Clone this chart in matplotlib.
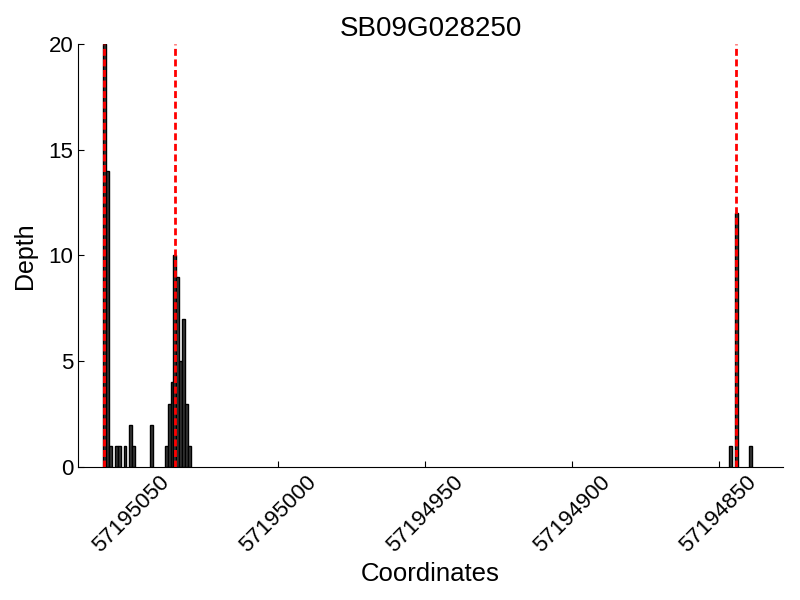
import matplotlib
matplotlib.use("Agg")
import matplotlib.pyplot as plt

plt.rcParams["font.family"] = ["Liberation Sans", "DejaVu Sans"]
plt.rcParams["lines.scale_dashes"] = False

gene = "SB09G028250"

# read coverage per coordinate
coords = [57195059, 57195058, 57195057, 57195055, 57195054, 57195052, 57195050, 57195049,
          57195043, 57195038, 57195037, 57195036, 57195035, 57195034, 57195033, 57195032,
          57195031, 57195030,
          57194846, 57194844, 57194839]
depths = [20, 14, 1, 1, 1, 1, 2, 1,
          2, 1, 3, 4, 10, 9, 5, 7,
          3, 1,
          1, 12, 1]

# exon boundaries
marks = [57195059, 57195035, 57194844]

xticks = [57195050, 57195000, 57194950, 57194900, 57194850]

fig = plt.figure(figsize=(8, 6), dpi=100)
ax = fig.add_axes([0.0975, 0.2217, 0.8815, 0.705])

ax.bar(coords, depths, width=1.0, color="0.22", edgecolor="black", linewidth=1.0, zorder=2)
for m in marks:
    ax.axvline(m, color="red", linewidth=2, linestyle=(0, (5, 2.6)), zorder=3)

ax.set_xlim(57195068, 57194828)
ax.set_ylim(0, 20)
ax.set_xticks(xticks)
ax.set_xticklabels([str(x) for x in xticks], rotation=45)
ax.set_yticks([0, 5, 10, 15, 20])

ax.spines["top"].set_visible(False)
ax.spines["right"].set_visible(False)
ax.tick_params(direction="in", length=4, labelsize=16, top=False, right=False)

ax.set_xlabel("Coordinates", fontsize=18.5)
ax.set_ylabel("Depth", fontsize=18, labelpad=8)
ax.set_title(gene, fontsize=20)

fig.savefig("out.png", dpi=100)
